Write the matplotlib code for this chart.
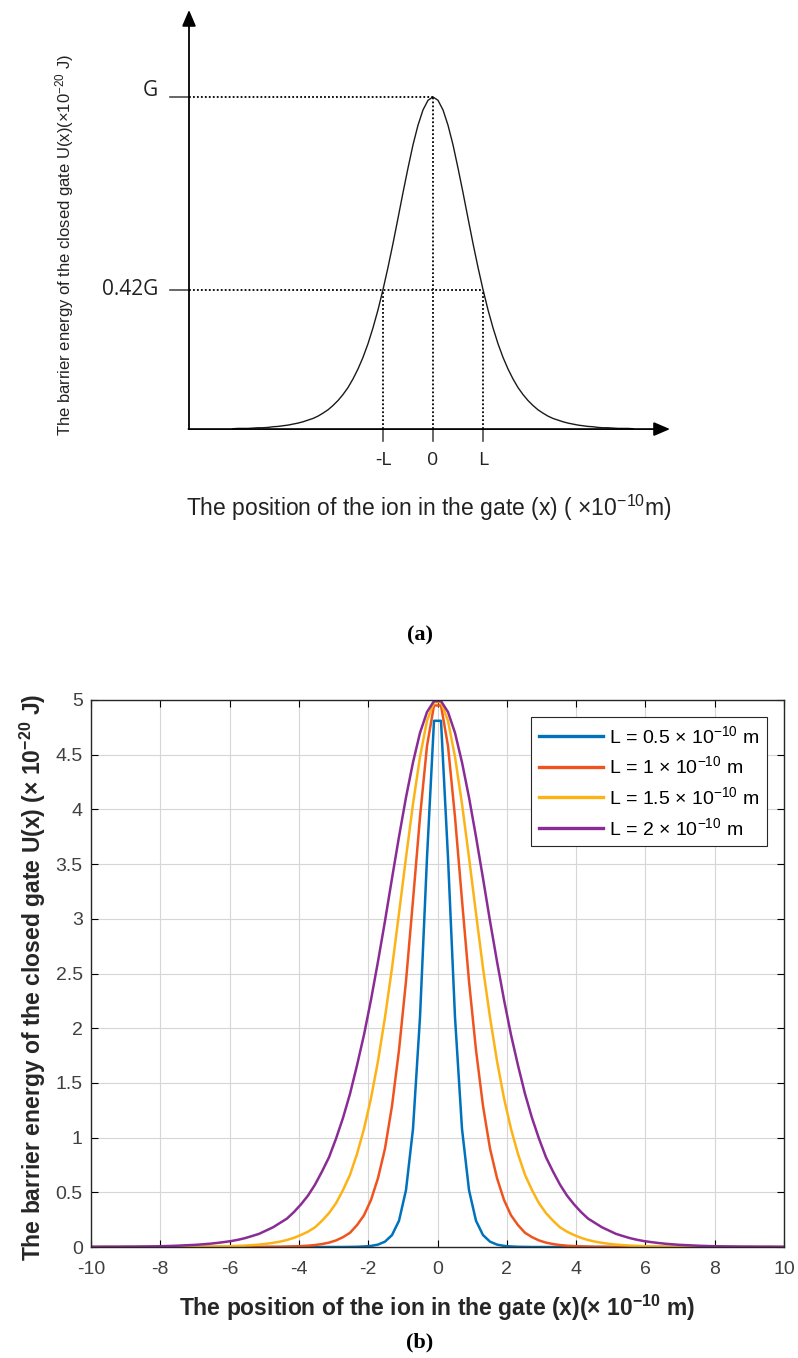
import numpy as np
import matplotlib
matplotlib.use("Agg")
import matplotlib.pyplot as plt
from matplotlib.ticker import MultipleLocator, FormatStrFormatter

plt.rcParams["font.family"] = ["Liberation Sans", "DejaVu Sans"]
plt.rcParams["mathtext.fontset"] = "custom"
plt.rcParams["mathtext.rm"] = "Liberation Sans"
plt.rcParams["mathtext.it"] = "Liberation Sans:italic"
plt.rcParams["mathtext.bf"] = "Liberation Sans:bold"
plt.rcParams["axes.unicode_minus"] = False

# ----------------- data -----------------
# (a) sketch: U/G against x/L, right half from 0 to 4L in steps of 0.1L
shape_half = [1.000, 0.990, 0.961, 0.915, 0.856, 0.786, 0.712, 0.635, 0.559, 0.487,
              0.420, 0.359, 0.305, 0.257, 0.216, 0.181, 0.151, 0.125, 0.104, 0.086,
              0.071, 0.058, 0.048, 0.039, 0.032, 0.027, 0.022, 0.018, 0.015, 0.012,
              0.010, 0.008, 0.007, 0.005, 0.004, 0.004, 0.003, 0.002, 0.002, 0.002,
              0.001]
peak_g = 1.0       # G
half_l = 1.0       # L
level = 0.42       # U(L) / G
tick_names = ["-L", "0", "L"]

# (b) U(x) in 1e-20 J, right half x = 0.1, 0.3, ..., 9.9 (x 1e-10 m)
u_l05 = [4.81, 3.56, 2.10, 1.08, 0.52, 0.24, 0.109, 0.049, 0.022, 0.010,
         0.005, 0.002, 0.001, 0, 0, 0, 0, 0, 0, 0,
         0, 0, 0, 0, 0, 0, 0, 0, 0, 0,
         0, 0, 0, 0, 0, 0, 0, 0, 0, 0,
         0, 0, 0, 0, 0, 0, 0, 0, 0, 0]
u_l10 = [4.95, 4.58, 3.93, 3.17, 2.43, 1.80, 1.29, 0.90, 0.63, 0.43,
         0.29, 0.20, 0.13, 0.090, 0.060, 0.040, 0.027, 0.018, 0.012, 0.008,
         0.006, 0.004, 0.002, 0.002, 0.001, 0, 0, 0, 0, 0,
         0, 0, 0, 0, 0, 0, 0, 0, 0, 0,
         0, 0, 0, 0, 0, 0, 0, 0, 0, 0]
u_l15 = [4.98, 4.81, 4.48, 4.05, 3.56, 3.05, 2.55, 2.10, 1.70, 1.36,
         1.08, 0.85, 0.66, 0.52, 0.40, 0.31, 0.24, 0.18, 0.14, 0.11,
         0.084, 0.064, 0.049, 0.038, 0.029, 0.022, 0.017, 0.013, 0.010, 0.008,
         0.006, 0.005, 0.003, 0.003, 0.002, 0.002, 0.001, 0, 0, 0,
         0, 0, 0, 0, 0, 0, 0, 0, 0, 0]
u_l20 = [4.99, 4.89, 4.70, 4.43, 4.11, 3.75, 3.37, 2.98, 2.61, 2.26,
         1.94, 1.66, 1.40, 1.18, 0.99, 0.82, 0.69, 0.57, 0.47, 0.39,
         0.32, 0.26, 0.22, 0.18, 0.15, 0.12, 0.10, 0.081, 0.066, 0.054,
         0.045, 0.037, 0.030, 0.025, 0.020, 0.017, 0.014, 0.011, 0.009, 0.007,
         0.006, 0.005, 0.004, 0.003, 0.003, 0.002, 0.002, 0.002, 0.001, 0.001]
l_values = ["0.5", "1", "1.5", "2"]
line_colors = ["#0072BD", "#F0541E", "#FDB316", "#8A2C95"]

W, H = 798, 1358


def px_box(left, top, right, bottom):
    """figure-fraction rectangle from pixel edges"""
    return [left / W, 1 - bottom / H, (right - left) / W, (bottom - top) / H]


fig = plt.figure(figsize=(W / 100, H / 100), dpi=100)

# ----------------- (a) sketch -----------------
ax_a = fig.add_axes(px_box(100, 0, 700, 540))
ax_a.set_xlim(-6.66, 5.34)
ax_a.set_ylim(-0.334, 1.292)
ax_a.axis("off")

x_a = np.linspace(-4, 4, 2 * len(shape_half) - 1) * half_l
u_a = np.array(shape_half[:0:-1] + shape_half) * peak_g
ax_a.plot(x_a, u_a, color="#1a1a1a", lw=1.0)

x0 = -4.88           # vertical axis position
axis_col = "#4d4d4d"
arrow = dict(arrowstyle="-|>,head_length=0.7,head_width=0.3", color="black",
             lw=1.3, shrinkA=0, shrinkB=0, mutation_scale=14)
ax_a.annotate("", xy=(x0, 1.262), xytext=(x0, 0), arrowprops=arrow)
ax_a.annotate("", xy=(4.74, 0), xytext=(x0 - 0.01, 0), arrowprops=arrow)

dots = (0, (1.0, 1.2))
for yv in (peak_g, level * peak_g):
    ax_a.plot([x0 - 0.38, x0], [yv, yv], color=axis_col, lw=1.2)
ax_a.plot([x0, 0], [peak_g, peak_g], color="black", lw=1.3, ls=dots)
ax_a.plot([0, 0], [0, peak_g], color="black", lw=1.3, ls=dots)
ax_a.plot([x0, half_l], [level * peak_g] * 2, color="black", lw=1.3, ls=dots)
for xv in (-half_l, half_l):
    ax_a.plot([xv, xv], [0, level * peak_g], color="black", lw=1.3, ls=dots)
sketch_font = ["Open Sans", "DejaVu Sans"]
for xv, name in zip((-half_l, 0, half_l), tick_names):
    ax_a.plot([xv, xv], [0, -0.035], color=axis_col, lw=1.2)
    ax_a.text(xv, -0.093, name, ha="center", va="center", fontsize=14,
              family=sketch_font, color="#222222")

ax_a.text(-5.5, peak_g + 0.02, "G", ha="right", va="center", fontsize=15,
          family=sketch_font, color="#222222")
ax_a.text(-5.5, level * peak_g, "0.42G", ha="right", va="center", fontsize=15,
          family=sketch_font, color="#222222")

ax_a.text(-0.08, -0.238, "The position of the ion in the gate (x) ( \u00d710$^{-10}$m)",
          ha="center", va="center", fontsize=16.5, color="#222222")
ax_a.text(-7.36, 0.554, "The barrier energy of the closed gate U(x)(\u00d710$^{-20}$ J)",
          ha="center", va="center", rotation=90, fontsize=12, color="#222222")

serif = ["Liberation Serif", "DejaVu Serif"]
fig.text(420 / W, 1 - 635 / H, "(a)", ha="center", va="center", fontsize=16,
         family=serif, weight="bold")

# ----------------- (b) curves -----------------
ax_b = fig.add_axes(px_box(91, 700, 784, 1247))
x_b = np.linspace(-10, 10, 100)
for half, lv, col in zip([u_l05, u_l10, u_l15, u_l20], l_values, line_colors):
    ax_b.plot(x_b, half[::-1] + half, color=col, lw=1.8,
              label=f"L = {lv} \u00d7 10$^{{-10}}$ m")

ax_b.set_xlim(-10, 10)
ax_b.set_ylim(0, 5)
ax_b.xaxis.set_major_locator(MultipleLocator(2))
ax_b.yaxis.set_major_locator(MultipleLocator(0.5))
ax_b.yaxis.set_major_formatter(FormatStrFormatter("%g"))
ax_b.grid(True, color="#d6d6d6", lw=0.8)
ax_b.set_axisbelow(True)
ax_b.tick_params(direction="in", top=True, right=True, length=5, width=0.8,
                 labelsize=14, labelcolor="#404040", pad=6)
ax_b.tick_params(axis="x", pad=10)
for sp in ax_b.spines.values():
    sp.set_color("#262626")
    sp.set_linewidth(1.0)

ax_b.set_xlabel("The position of the ion in the gate (x)(\u00d7 10$^{\\mathbf{-10}}$ m)",
                fontsize=16.5, weight="bold", color="#262626", va="center")
ax_b.xaxis.set_label_coords(0.4993, -0.1115)
ax_b.set_ylabel("The barrier energy of the closed gate U(x) (\u00d7 10$^{\\mathbf{-20}}$ J)",
                fontsize=16.5, weight="bold", color="#262626", va="center")
ax_b.yaxis.set_label_coords(-0.0837, 0.4936)

leg = ax_b.legend(loc="upper right", bbox_to_anchor=(0.9755, 0.9689),
                  borderaxespad=0, fontsize=14, handlelength=3.3,
                  handletextpad=0.3, labelspacing=0.45, borderpad=0.4,
                  fancybox=False, framealpha=1)
leg.get_frame().set_edgecolor("#262626")
leg.get_frame().set_linewidth(0.8)
for ln in leg.get_lines():
    ln.set_linewidth(2.4)

fig.text(420 / W, 1 - 1342 / H, "(b)", ha="center", va="center", fontsize=16,
         family=serif, weight="bold")

fig.savefig("out.png", dpi=100)
